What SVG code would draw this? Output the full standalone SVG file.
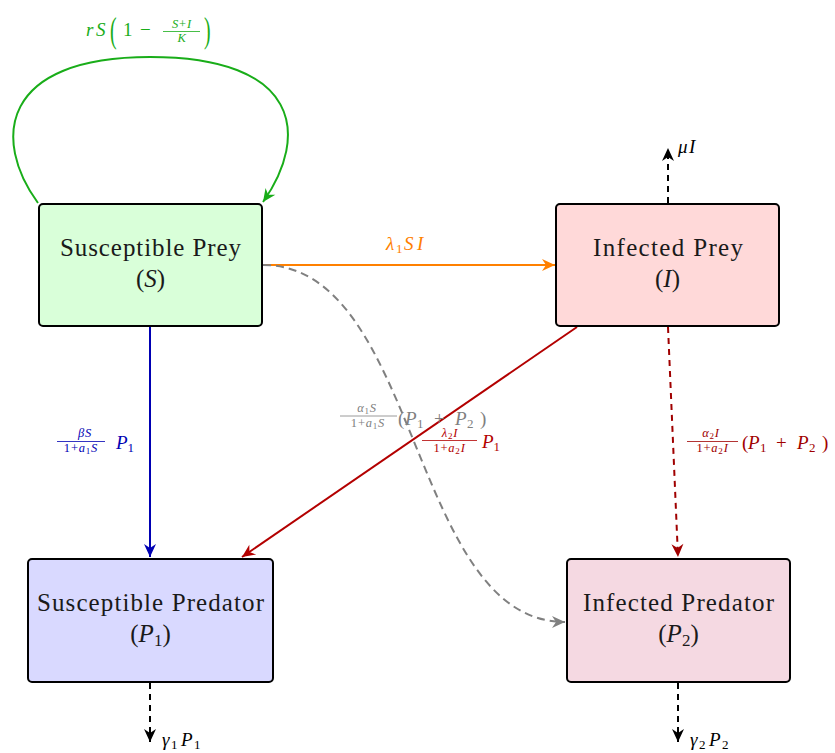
<svg xmlns="http://www.w3.org/2000/svg" width="835" height="753" viewBox="0 0 835 753">
  <style>
    text { font-family: "Liberation Serif", "DejaVu Serif", "Noto Serif", serif; }
    .box { stroke: #000; stroke-width: 2; }
    .lbl { font-size: 25px; fill: #1a1a1a; }
    .m { font-style: italic; }
    .u { font-style: normal; }
    .big { font-size: 19px; }
    .sm { font-size: 13px; }
    .fs { font-size: 12.5px; letter-spacing: 0.8px; }
    .xs { font-size: 9px; }
    .fr { stroke-width: 0.8; }
    .edge { fill: none; stroke-width: 2; }
  </style>
  <defs>
    <marker id="ah-green" viewBox="-14 -7 15 14" refX="0" refY="0" markerWidth="15" markerHeight="14" markerUnits="userSpaceOnUse" orient="auto">
      <path d="M0,0 L-13,-6 L-9,0 L-13,6 Z" fill="#19ad19"/>
    </marker>
    <marker id="ah-orange" viewBox="-14 -7 15 14" refX="0" refY="0" markerWidth="15" markerHeight="14" markerUnits="userSpaceOnUse" orient="auto">
      <path d="M0,0 L-13,-6 L-9,0 L-13,6 Z" fill="#ff8000"/>
    </marker>
    <marker id="ah-gray" viewBox="-14 -7 15 14" refX="0" refY="0" markerWidth="15" markerHeight="14" markerUnits="userSpaceOnUse" orient="auto">
      <path d="M0,0 L-13,-6 L-9,0 L-13,6 Z" fill="#808080"/>
    </marker>
    <marker id="ah-blue" viewBox="-14 -7 15 14" refX="0" refY="0" markerWidth="15" markerHeight="14" markerUnits="userSpaceOnUse" orient="auto">
      <path d="M0,0 L-13,-6 L-9,0 L-13,6 Z" fill="#0000b3"/>
    </marker>
    <marker id="ah-red" viewBox="-14 -7 15 14" refX="0" refY="0" markerWidth="15" markerHeight="14" markerUnits="userSpaceOnUse" orient="auto">
      <path d="M0,0 L-13,-6 L-9,0 L-13,6 Z" fill="#b30000"/>
    </marker>
    <marker id="ah-dred" viewBox="-14 -7 15 14" refX="0" refY="0" markerWidth="15" markerHeight="14" markerUnits="userSpaceOnUse" orient="auto">
      <path d="M0,0 L-13,-6 L-9,0 L-13,6 Z" fill="#a00000"/>
    </marker>
    <marker id="ah-black" viewBox="-14 -7 15 14" refX="0" refY="0" markerWidth="15" markerHeight="14" markerUnits="userSpaceOnUse" orient="auto">
      <path d="M0,0 L-13,-6 L-9,0 L-13,6 Z" fill="#000"/>
    </marker>
  </defs>

  <rect width="835" height="753" fill="#fff"/>

  <!-- connectors -->
  <g id="connectors">
    <!-- logistic growth self-loop on S -->
    <path class="edge" stroke="#19ad19" d="M38,203 C-8,140 0,57 150,57 C300,57 310,135 263,202" marker-end="url(#ah-green)"/>
    <!-- infection S -> I -->
    <path class="edge" stroke="#ff8000" d="M263,265 L555,265" marker-end="url(#ah-orange)"/>
    <!-- predation of S feeding P2 (dashed) -->
    <path class="edge" stroke="#808080" stroke-dasharray="8,5" d="M263,265 C420,265 410,622 565,622" marker-end="url(#ah-gray)"/>
    <!-- predation S -> P1 -->
    <path class="edge" stroke="#0000b3" d="M150,327 L150,557" marker-end="url(#ah-blue)"/>
    <!-- predation I -> P1 -->
    <path class="edge" stroke="#b30000" d="M577,327 L242,557" marker-end="url(#ah-red)"/>
    <!-- predation I -> P2 (dashed) -->
    <path class="edge" stroke="#a00000" stroke-dasharray="6,5" d="M668,327 L678,557" marker-end="url(#ah-dred)"/>
    <!-- death terms -->
    <path class="edge" stroke="#000" stroke-dasharray="6,5" d="M668,203 L668,148" marker-end="url(#ah-black)"/>
    <path class="edge" stroke="#000" stroke-dasharray="6,5" d="M150,683 L150,742" marker-end="url(#ah-black)"/>
    <path class="edge" stroke="#000" stroke-dasharray="6,5" d="M678,683 L678,742" marker-end="url(#ah-black)"/>

    <!-- edge labels -->
    <g id="lbl-growth" fill="#19ad19">
      <text class="m big" y="36"><tspan x="86">r</tspan><tspan x="96">S</tspan></text>
      <text class="u" font-size="36" transform="translate(110,42) scale(0.55,1)">(</text>
      <text class="u big" x="123" y="36">1</text>
      <text class="u big" x="140" y="36">−</text>
      <text class="m fs" x="182" y="28" text-anchor="middle">S<tspan class="u">+</tspan>I</text>
      <line class="fr" x1="163" y1="31.5" x2="200" y2="31.5" stroke="#19ad19"/>
      <text class="m fs" x="182" y="42" text-anchor="middle">K</text>
      <text class="u" font-size="36" transform="translate(204,42) scale(0.55,1)">)</text>
    </g>

    <text id="lbl-infect" class="m big" y="250" fill="#ff8000"><tspan x="386">λ</tspan><tspan class="u sm" x="396" dy="3">1</tspan><tspan x="404" dy="-3">S</tspan><tspan x="417">I</tspan></text>

    <g id="lbl-beta" fill="#0000b3">
      <text class="m fs" x="85" y="437" text-anchor="middle">βS</text>
      <line class="fr" x1="57" y1="441.5" x2="105" y2="441.5" stroke="#0000b3"/>
      <text class="m fs" x="81" y="452" text-anchor="middle"><tspan class="u">1+</tspan>a<tspan class="u xs" dy="2">1</tspan><tspan dy="-2">S</tspan></text>
      <text class="m big" x="116" y="449">P<tspan class="u sm" dy="3">1</tspan></text>
    </g>

    <g id="lbl-alpha1" fill="#808080">
      <text class="m fs" x="367" y="412" text-anchor="middle">α<tspan class="u xs" dy="2">1</tspan><tspan dy="-2">S</tspan></text>
      <line class="fr" x1="340" y1="416" x2="397" y2="416" stroke="#808080"/>
      <text class="m fs" x="368" y="427" text-anchor="middle"><tspan class="u">1+</tspan>a<tspan class="u xs" dy="2">1</tspan><tspan dy="-2">S</tspan></text>
      <text class="m big" y="425"><tspan class="u" x="398">(</tspan><tspan x="405">P</tspan><tspan class="u sm" x="417" dy="3">1</tspan><tspan class="u" x="434" dy="-3">+</tspan><tspan x="455">P</tspan><tspan class="u sm" x="467" dy="3">2</tspan><tspan class="u" x="480" dy="-3">)</tspan></text>
    </g>

    <g id="lbl-lambda2" fill="#b30000">
      <text class="m fs" x="450" y="437" text-anchor="middle">λ<tspan class="u xs" dy="2">2</tspan><tspan dy="-2">I</tspan></text>
      <line class="fr" x1="422" y1="440.5" x2="477" y2="440.5" stroke="#b30000"/>
      <text class="m fs" x="449.5" y="452" text-anchor="middle"><tspan class="u">1+</tspan>a<tspan class="u xs" dy="2">2</tspan><tspan dy="-2">I</tspan></text>
      <text class="m big" x="482" y="448">P<tspan class="u sm" dy="3">1</tspan></text>
    </g>

    <g id="lbl-alpha2" fill="#a00000">
      <text class="m fs" x="711" y="437" text-anchor="middle">α<tspan class="u xs" dy="2">2</tspan><tspan dy="-2">I</tspan></text>
      <line class="fr" x1="687" y1="441.5" x2="738" y2="441.5" stroke="#a00000"/>
      <text class="m fs" x="712.5" y="452" text-anchor="middle"><tspan class="u">1+</tspan>a<tspan class="u xs" dy="2">2</tspan><tspan dy="-2">I</tspan></text>
      <text class="m big" y="449"><tspan class="u" x="742">(</tspan><tspan x="748">P</tspan><tspan class="u sm" x="760" dy="3">1</tspan><tspan class="u" x="776" dy="-3">+</tspan><tspan x="797">P</tspan><tspan class="u sm" x="809" dy="3">2</tspan><tspan class="u" x="822" dy="-3">)</tspan></text>
    </g>

    <text id="lbl-mu" class="m big" y="153" fill="#000"><tspan x="678">μ</tspan><tspan x="689">I</tspan></text>
    <text id="lbl-gamma1" class="m big" y="746" fill="#000"><tspan x="162">γ</tspan><tspan class="u sm" x="171" dy="3">1</tspan><tspan x="181" dy="-3">P</tspan><tspan class="u sm" x="194" dy="3">1</tspan></text>
    <text id="lbl-gamma2" class="m big" y="746" fill="#000"><tspan x="690">γ</tspan><tspan class="u sm" x="699" dy="3">2</tspan><tspan x="709" dy="-3">P</tspan><tspan class="u sm" x="722" dy="3">2</tspan></text>
  </g>

  <!-- compartments -->
  <g id="node-S">
    <rect class="box" x="39" y="204" width="223" height="122" rx="4" fill="#d9ffd9"/>
    <text class="lbl" x="150.5" y="256" text-anchor="middle" textLength="181" lengthAdjust="spacing">Susceptible Prey</text>
    <text class="lbl" x="150.5" y="287" text-anchor="middle">(<tspan font-style="italic">S</tspan>)</text>
  </g>
  <g id="node-I">
    <rect class="box" x="556" y="204" width="223" height="122" rx="4" fill="#ffd9d9"/>
    <text class="lbl" x="668" y="256" text-anchor="middle" textLength="150" lengthAdjust="spacing">Infected Prey</text>
    <text class="lbl" x="667.5" y="287" text-anchor="middle">(<tspan font-style="italic">I</tspan>)</text>
  </g>
  <g id="node-P1">
    <rect class="box" x="28" y="559" width="245" height="123" rx="4" fill="#d9d9ff"/>
    <text class="lbl" x="150.5" y="611" text-anchor="middle" textLength="227" lengthAdjust="spacing">Susceptible Predator</text>
    <text class="lbl" x="150.5" y="642" text-anchor="middle">(<tspan font-style="italic">P</tspan><tspan font-size="17" dy="4">1</tspan><tspan dy="-4">)</tspan></text>
  </g>
  <g id="node-P2">
    <rect class="box" x="567" y="559" width="223" height="123" rx="4" fill="#f5d9e2"/>
    <text class="lbl" x="678.5" y="611" text-anchor="middle" textLength="191" lengthAdjust="spacing">Infected Predator</text>
    <text class="lbl" x="678.5" y="642" text-anchor="middle">(<tspan font-style="italic">P</tspan><tspan font-size="17" dy="4">2</tspan><tspan dy="-4">)</tspan></text>
  </g>
</svg>
